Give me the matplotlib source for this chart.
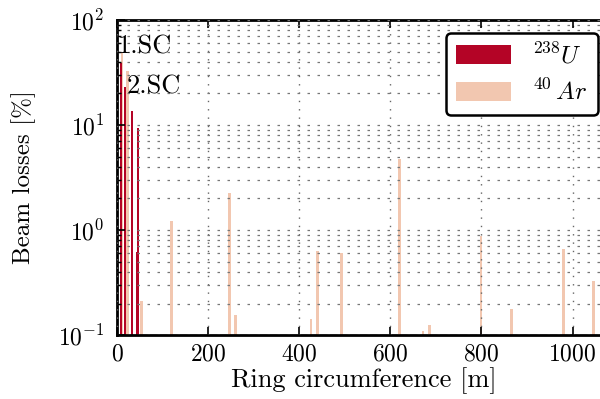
import matplotlib
matplotlib.use("Agg")
import matplotlib.pyplot as plt

plt.rcParams["font.family"] = ["cmr10"]
plt.rcParams["mathtext.fontset"] = "cm"
plt.rcParams["axes.formatter.use_mathtext"] = True
plt.rcParams["axes.unicode_minus"] = False

# beam losses along the ring
u_pos = [9, 18, 33, 44, 46]
u_loss = [38.7, 23.2, 13.6, 0.62, 9.3]

ar_pos = [11, 23, 54, 120, 247, 260, 426, 440, 493, 620, 672, 686, 799, 866, 980, 1046]
ar_loss = [50, 33, 0.21, 1.22, 2.27, 0.155, 0.142, 0.63, 0.60, 4.8, 0.11, 0.124,
           0.88, 0.176, 0.66, 0.33]

labels = [r"$^{238}U$", r"$^{40}\,Ar$"]
RED = "#b40426"
PEACH = "#f2c7b0"

fig = plt.figure(figsize=(6.0, 3.99), dpi=100)
ax = fig.add_axes([0.195, 0.16, 0.823, 0.79])

ax.bar(ar_pos, ar_loss, width=6, color=PEACH, label=labels[1], zorder=1)
ax.bar(u_pos, u_loss, width=5, color=RED, label=labels[0], zorder=2)

ax.set_yscale("log")
ax.set_ylim(0.1, 100)
ax.set_xlim(0, 1084)
ax.set_xticks([0, 200, 400, 600, 800, 1000])

ax.grid(True, which="major", axis="x", color="#666666", linestyle=(0, (1, 5)), lw=1.0, zorder=3)
ax.grid(True, which="both", axis="y", color="#777777", linestyle=(0, (2, 6)), lw=0.9, zorder=3)
ax.set_axisbelow(False)

for s in ax.spines.values():
    s.set_linewidth(2.0)
ax.tick_params(which="both", direction="in", top=True, labelsize=17, pad=6)
ax.tick_params(axis="y", which="both", pad=9)
ax.tick_params(which="major", length=6, width=1.2)
ax.tick_params(which="minor", length=3, width=1.0)

ax.set_xlabel("Ring circumference [m]", fontsize=19, labelpad=1)
ax.set_ylabel("Beam losses [%]", fontsize=18, labelpad=16)

ax.text(1, 56, "1.SC", fontsize=19, va="center", ha="left", zorder=5)
ax.text(21, 23, "2.SC", fontsize=19, va="center", ha="left", zorder=5)

h, l = ax.get_legend_handles_labels()
leg = ax.legend(h[::-1], l[::-1], loc="upper right", bbox_to_anchor=(0.996, 0.918),
                bbox_transform=fig.transFigure, fontsize=18, framealpha=1,
                fancybox=True, edgecolor="black", handlelength=2.2, handleheight=0.78,
                borderpad=0.4, labelspacing=0.45, handletextpad=0.85, borderaxespad=0)
leg.get_frame().set_linewidth(1.8)
leg.set_zorder(10)

fig.savefig("out.png", dpi=100)
